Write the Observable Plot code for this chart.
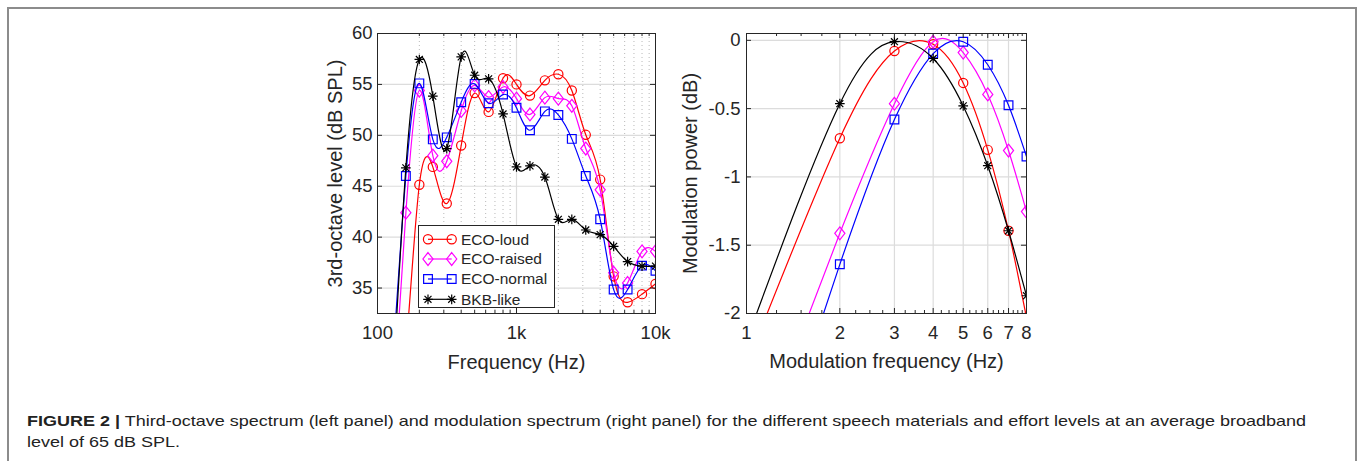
<!DOCTYPE html>
<html><head><meta charset="utf-8">
<script src="https://cdn.jsdelivr.net/npm/d3@7"></script>
<script src="https://cdn.jsdelivr.net/npm/@observablehq/plot@0.6"></script>
<style>
body{margin:0;background:#fff;}
#root{position:relative;width:1365px;height:461px;overflow:hidden;font-family:"Liberation Sans",Arial,Helvetica,sans-serif;}
#border{position:absolute;left:7px;top:7px;width:1350px;height:520px;border:2px solid #8c8c8c;box-sizing:border-box;}
#left{position:absolute;left:307px;top:23px;}
#right{position:absolute;left:666px;top:23px;}
#legend{position:absolute;left:418px;top:225px;}
#caption{position:absolute;left:27px;top:410px;transform-origin:0 0;font-size:15px;line-height:21px;color:#222;white-space:nowrap;}
#caption .l1{display:inline-block;}
</style>
</head><body>
<div id="root">
  <div id="border"></div>
  <div id="left"></div>
  <div id="right"></div>
  <div id="legend"></div>
  <div id="caption">
    <span class="l1"><b>FIGURE 2 |</b> Third-octave spectrum (left panel) and modulation spectrum (right panel) for the different speech materials and effort levels at an average broadband</span><br>
    <span>level of 65 dB SPL.</span>
  </div>
</div>
<script>
// ---------- data ----------
const seriesNames = ["ECO-loud", "ECO-raised", "ECO-normal", "BKB-like"];
const seriesColors = ["#ff0000", "#ff00ff", "#0000ff", "#000000"];

// Third-octave spectrum (left panel)
const bandFreqs = [125, 160, 200, 250, 315, 400, 500, 630, 800, 1000, 1250, 1600, 2000, 2500, 3150, 4000, 5000, 6300, 8000, 10000];
const spectrumLoud   = [18, 29, 45.15, 46.9, 43.3, 49.0, 54.15, 52.3, 55.6, 55.0, 53.9, 55.4, 56.0, 54.4, 50.05, 45.65, 36.15, 33.6, 34.4, 35.4];
const spectrumRaised = [20, 42.4, 54.4, 48.0, 47.45, 52.4, 54.9, 53.75, 54.75, 53.6, 52.05, 53.7, 53.6, 52.9, 48.7, 44.65, 36.5, 35.5, 38.6, 38.6];
const spectrumNormal = [25, 46.0, 55.1, 49.6, 49.8, 53.25, 55.05, 53.15, 54.0, 52.7, 50.5, 52.35, 52.0, 49.65, 46.0, 41.75, 34.85, 34.85, 37.2, 36.7];
const spectrumBkb    = [22, 46.8, 57.45, 53.85, 48.7, 57.7, 55.9, 55.55, 52.1, 46.9, 47.0, 45.9, 41.75, 41.75, 40.7, 40.25, 39.1, 37.6, 37.15, 37.15];

// Modulation spectrum (right panel)
const modFreqs = [1, 2, 3, 4, 5, 6, 7, 8];
const modLoud   = [-2.38, -0.717, -0.078, -0.029, -0.312, -0.802, -1.394, -2.03];
const modRaised = [-3.2, -1.413, -0.464, -0.01, -0.09, -0.396, -0.807, -1.254];
const modNormal = [-3.7, -1.64, -0.58, -0.097, -0.01, -0.179, -0.476, -0.851];
const modBkb    = [-2.2, -0.464, -0.01, -0.133, -0.48, -0.918, -1.394, -1.87];

// ticks
const freqTicks = [100, 1000, 10000];
const freqTickLabels = ["100", "1k", "10k"];
const freqMinor = [200, 300, 400, 500, 600, 700, 800, 900, 2000, 3000, 4000, 5000, 6000, 7000, 8000, 9000];
const levelTicks = [35, 40, 45, 50, 55, 60];
const modTicks = [1, 2, 3, 4, 5, 6, 7, 8];
const modTickLabels = ["1", "2", "3", "4", "5", "6", "7", "8"];
const modGrid = [2, 3, 4, 5, 6, 7];
const modMinor = [1.25, 1.5, 1.75, 2.25, 2.5, 2.75, 3.25, 3.5, 3.75, 4.25, 4.5, 4.75, 5.25, 5.5, 5.75, 6.25, 6.5, 6.75, 7.25, 7.5, 7.75];
const powerTicks = [-2, -1.5, -1, -0.5, 0];
const powerTickLabels = ["-2", "-1.5", "-1", "-0.5", "0"];
const powerGrid = [-1.5, -1, -0.5, 0];

// ---------- symbols ----------
const rad = s => Math.sqrt(s / Math.PI);
const symCircle = {draw(c, s) { const r = rad(s); c.moveTo(r, 0); c.arc(0, 0, r, 0, 2 * Math.PI); c.closePath(); }};
const symDiamond = {draw(c, s) { const r = rad(s), w = r * 1.1, h = r * 1.4; c.moveTo(0, -h); c.lineTo(w, 0); c.lineTo(0, h); c.lineTo(-w, 0); c.closePath(); }};
const symSquare = {draw(c, s) { const r = rad(s), h = r * 0.95; c.moveTo(-h, -h); c.lineTo(h, -h); c.lineTo(h, h); c.lineTo(-h, h); c.closePath(); }};
const symStar = {draw(c, s) { const r = rad(s) * 1.05, d = r * 0.72;
  c.moveTo(-r, 0); c.lineTo(r, 0); c.moveTo(0, -r); c.lineTo(0, r);
  c.moveTo(-d, -d); c.lineTo(d, d); c.moveTo(-d, d); c.lineTo(d, -d); }};
const seriesSymbols = [symCircle, symDiamond, symSquare, symStar];

const spectrumValues = [spectrumLoud, spectrumRaised, spectrumNormal, spectrumBkb];
const modValues = [modLoud, modRaised, modNormal, modBkb];

const spectrum = seriesNames.map((name, i) => bandFreqs.map((f, j) => ({name, f, v: spectrumValues[i][j]})));
const modulation = seriesNames.map((name, i) => modFreqs.map((f, j) => ({name, f, v: modValues[i][j]})));

const FONT = '"Liberation Sans", Arial, Helvetica, sans-serif';
const AX = "#262626";
const GRID = "#dcdcdc";

function seriesMarks(sets) {
  const out = [];
  sets.forEach((data, i) => {
    out.push(Plot.line(data, {x: "f", y: "v", stroke: seriesColors[i], strokeWidth: 1.2, curve: "natural", clip: true}));
    out.push(Plot.dot(data, {x: "f", y: "v", symbol: seriesSymbols[i], r: 4.6, stroke: seriesColors[i], fill: "none", strokeWidth: 1.2, clip: true}));
  });
  return out;
}

const FH = 280; // frame height

// ---------- left panel ----------
const left = Plot.plot({
  width: 358, height: 350,
  marginLeft: 70, marginRight: 10, marginTop: 10, marginBottom: 60,
  x: {type: "log", domain: [100, 10000], axis: null},
  y: {domain: [32.5, 60], axis: null},
  style: {fontFamily: FONT, fontSize: "18.5px", color: AX, background: "transparent", overflow: "visible"},
  marks: [
    Plot.gridX(freqMinor, {stroke: "#b8b8b8", strokeOpacity: 1, strokeWidth: 1, strokeDasharray: "1,3"}),
    Plot.gridX([1000], {stroke: GRID, strokeOpacity: 1, strokeWidth: 1.2}),
    Plot.gridY(levelTicks, {stroke: GRID, strokeOpacity: 1, strokeWidth: 1.2}),
    ...seriesMarks(spectrum),
    Plot.tickX(freqTicks, {x: d => d, stroke: AX, insetTop: FH - 5}),
    Plot.tickX(freqTicks, {x: d => d, stroke: AX, insetBottom: FH - 5}),
    Plot.tickX(freqMinor, {x: d => d, stroke: AX, insetTop: FH - 3}),
    Plot.tickX(freqMinor, {x: d => d, stroke: AX, insetBottom: FH - 3}),
    Plot.tickY(levelTicks, {y: d => d, stroke: AX, insetRight: 278 - 5}),
    Plot.tickY(levelTicks, {y: d => d, stroke: AX, insetLeft: 278 - 5}),
    Plot.frame({stroke: AX, strokeWidth: 1}),
    Plot.text(freqTicks, {x: d => d, frameAnchor: "bottom", dy: 20, lineAnchor: "middle", textAnchor: "middle", text: d => freqTickLabels[freqTicks.indexOf(d)], fontSize: 18.5, fill: AX}),
    Plot.text(levelTicks, {y: d => d, frameAnchor: "left", dx: -5, lineAnchor: "middle", textAnchor: "end", text: d => String(d), fontSize: 18.5, fill: AX}),
    Plot.text(["Frequency (Hz)"], {text: d => d, frameAnchor: "bottom", dy: 49, lineAnchor: "middle", textAnchor: "middle", fontSize: 20, fill: AX}),
    Plot.text(["3rd-octave level (dB SPL)"], {text: d => d, frameAnchor: "left", dx: -42, rotate: -90, lineAnchor: "middle", textAnchor: "middle", fontSize: 20, fill: AX})
  ]
});
document.getElementById("left").append(left);

// ---------- right panel ----------
const right = Plot.plot({
  width: 375, height: 350,
  marginLeft: 80, marginRight: 15, marginTop: 10, marginBottom: 60,
  x: {type: "log", domain: [1, 8], axis: null},
  y: {domain: [-2, 0.05], axis: null},
  style: {fontFamily: FONT, fontSize: "18.5px", color: AX, background: "transparent", overflow: "visible"},
  marks: [
    Plot.gridX(modGrid, {stroke: GRID, strokeOpacity: 1, strokeWidth: 1.2}),
    Plot.gridY(powerGrid, {stroke: GRID, strokeOpacity: 1, strokeWidth: 1.2}),
    ...seriesMarks(modulation),
    Plot.tickX(modTicks, {x: d => d, stroke: AX, insetTop: FH - 5}),
    Plot.tickX(modTicks, {x: d => d, stroke: AX, insetBottom: FH - 5}),
    Plot.tickX(modMinor, {x: d => d, stroke: AX, insetTop: FH - 3}),
    Plot.tickX(modMinor, {x: d => d, stroke: AX, insetBottom: FH - 3}),
    Plot.tickY(powerTicks, {y: d => d, stroke: AX, insetRight: 280 - 5}),
    Plot.tickY(powerTicks, {y: d => d, stroke: AX, insetLeft: 280 - 5}),
    Plot.frame({stroke: AX, strokeWidth: 1}),
    Plot.text(modTicks, {x: d => d, frameAnchor: "bottom", dy: 20, lineAnchor: "middle", textAnchor: "middle", text: d => modTickLabels[modTicks.indexOf(d)], fontSize: 18.5, fill: AX}),
    Plot.text(powerTicks, {y: d => d, frameAnchor: "left", dx: -6, lineAnchor: "middle", textAnchor: "end", text: d => powerTickLabels[powerTicks.indexOf(d)], fontSize: 18.5, fill: AX}),
    Plot.text(["Modulation frequency (Hz)"], {text: d => d, frameAnchor: "bottom", dy: 48, lineAnchor: "middle", textAnchor: "middle", fontSize: 20, fill: AX}),
    Plot.text(["Modulation power (dB)"], {text: d => d, frameAnchor: "left", dx: -56, rotate: -90, lineAnchor: "middle", textAnchor: "middle", fontSize: 20, fill: AX})
  ]
});
document.getElementById("right").append(right);

// ---------- legend (inside left panel) ----------
(function () {
  const W = 137, H = 83;
  const svg = d3.select("#legend").append("svg").attr("width", W).attr("height", H).style("display", "block");
  svg.append("rect").attr("x", 0.5).attr("y", 0.5).attr("width", W - 1).attr("height", H - 1)
    .attr("fill", "#fff").attr("stroke", AX).attr("stroke-width", 1);
  const rows = [14.3, 34, 54, 74.3];
  seriesNames.forEach((name, i) => {
    const g = svg.append("g").attr("transform", `translate(0,${rows[i]})`);
    g.append("line").attr("x1", 10).attr("x2", 33.7).attr("y1", 0).attr("y2", 0)
      .attr("stroke", seriesColors[i]).attr("stroke-width", 1.2);
    const sym = d3.symbol().type(seriesSymbols[i]).size(Math.PI * 4.6 * 4.6);
    [10, 33.7].forEach(x => g.append("path").attr("d", sym()).attr("transform", `translate(${x},0)`)
      .attr("fill", "none").attr("stroke", seriesColors[i]).attr("stroke-width", 1.2));
    g.append("text").attr("x", 43).attr("y", 0).attr("dy", "0.35em")
      .attr("font-family", FONT).attr("font-size", 15.5).attr("fill", AX).text(name);
  });
})();

// ---------- caption: stretch the first line to the figure's text width ----------
(function () {
  const cap = document.getElementById("caption");
  const w = cap.querySelector(".l1").getBoundingClientRect().width;
  if (w > 0) cap.style.transform = `scaleX(${1279 / w})`;
})();
</script>
</body></html>
